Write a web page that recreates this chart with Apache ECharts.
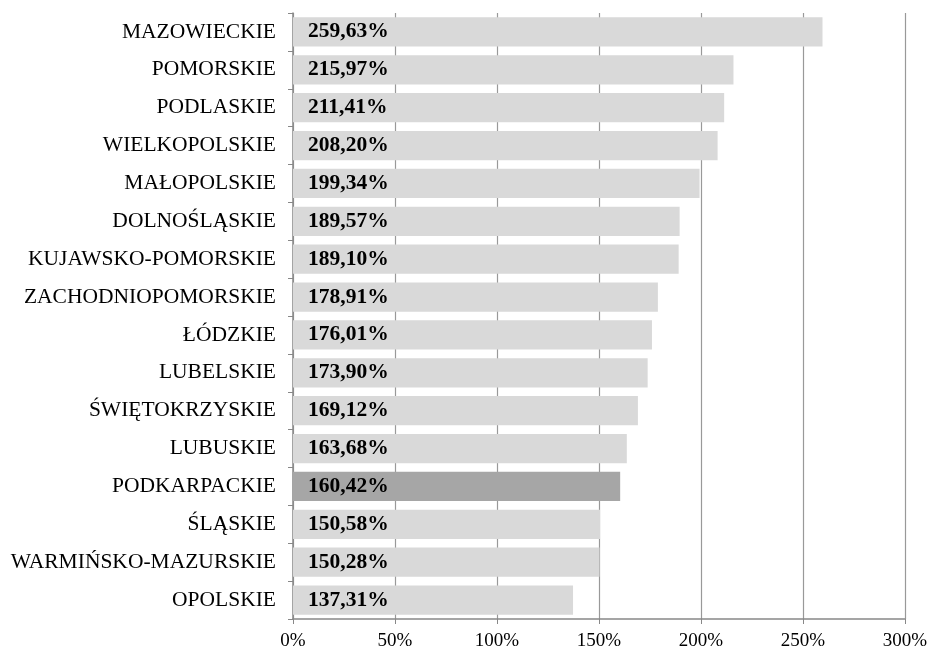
<!DOCTYPE html>
<html><head><meta charset="utf-8">
<script src="https://cdn.jsdelivr.net/npm/echarts@6/dist/echarts.min.js"></script>
<style>html,body{margin:0;padding:0;background:#fff}#c{width:930px;height:653px}</style>
</head><body><div id="c"></div>
<script>
const categories = ["MAZOWIECKIE","POMORSKIE","PODLASKIE","WIELKOPOLSKIE","MAŁOPOLSKIE","DOLNOŚLĄSKIE","KUJAWSKO-POMORSKIE","ZACHODNIOPOMORSKIE","ŁÓDZKIE","LUBELSKIE","ŚWIĘTOKRZYSKIE","LUBUSKIE","PODKARPACKIE","ŚLĄSKIE","WARMIŃSKO-MAZURSKIE","OPOLSKIE"];
const values = [259.63,215.97,211.41,208.20,199.34,189.57,189.10,178.91,176.01,173.90,169.12,163.68,160.42,150.58,150.28,137.31];
const highlighted = ["PODKARPACKIE"];
const xTicks = [0,50,100,150,200,250,300];

const chart = echarts.init(document.getElementById('c'), null, {renderer:'canvas'});
const font = '"Liberation Serif","Times New Roman",serif';
chart.setOption({
  animation:false,
  grid:{left:293,right:24,top:13,bottom:34,containLabel:false},
  xAxis:{type:'value',min:xTicks[0],max:xTicks[xTicks.length-1],interval:xTicks[1]-xTicks[0],
    axisLine:{show:true,lineStyle:{color:'#888',width:1.5}},
    axisTick:{show:true,length:5,lineStyle:{color:'#888'}},
    splitLine:{show:true,lineStyle:{color:'#999',width:1.2}},
    axisLabel:{formatter:v=>v+'%',color:'#000',fontFamily:font,fontSize:19,margin:13}
  },
  yAxis:{type:'category',inverse:true,data:categories,
    axisLine:{show:true,lineStyle:{color:'#888',width:1.5}},
    axisTick:{show:true,length:5,lineStyle:{color:'#888'}},
    axisLabel:{color:'#000',fontFamily:font,fontSize:21.5,margin:17}
  },
  series:[{type:'bar',barCategoryGap:'23%',
    data:values.map((v,i)=>({value:v,itemStyle:{color:highlighted.includes(categories[i])?'#a6a6a6':'#d9d9d9'}})),
    label:{show:true,position:'insideLeft',distance:15,color:'#000',fontFamily:font,fontSize:21.5,fontWeight:'bold',
      formatter:p=>p.value.toFixed(2).replace('.',',')+'%'}
  }]
});
</script></body></html>
